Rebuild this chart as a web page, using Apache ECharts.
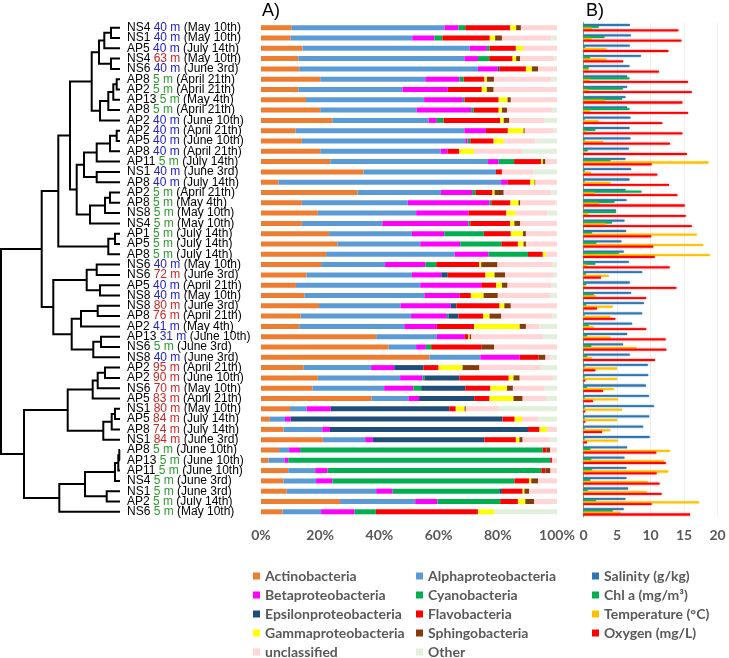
<!DOCTYPE html>
<html><head><meta charset="utf-8">
<script src="https://cdn.jsdelivr.net/npm/echarts@6/dist/echarts.min.js"></script>
<style>html,body{margin:0;padding:0;background:#fff}#c{width:729px;height:658px}</style>
</head><body><div id="c"></div>
<script>
// ---------- sample labels ----------
const sites = ['NS4','NS1','AP5','NS4','NS6','AP8','AP2','AP13','AP8','AP2','AP2','AP5','AP8','AP11','NS1','AP8','AP2','AP8','NS8','NS4','AP1','AP5','AP8','NS6','NS6','AP5','NS8','NS8','AP8','AP2','AP13','NS6','NS8','AP2','AP2','NS6','AP5','NS1','AP5','AP8','NS1','AP8','AP13','AP11','NS4','NS1','AP2','NS6'];
const depths = [40,40,40,63,40,5,5,5,5,40,40,40,40,5,40,40,5,5,5,5,5,5,5,40,72,40,40,80,76,41,31,5,40,95,90,70,83,80,84,74,84,5,5,5,5,5,5,5];
const dates = ['May 10th','May 10th','July 14th','May 10th','June 3rd','April 21th','April 21th','May 4th','April 21th','June 10th','April 21th','June 10th','April 21th','July 14th','June 3rd','July 14th','April 21th','May 4th','May 10th','May 10th','July 14th','July 14th','July 14th','May 10th','June 3rd','April 21th','May 10th','June 3rd','April 21th','May 4th','June 10th','June 3rd','June 3rd','April 21th','June 10th','May 10th','April 21th','May 10th','July 14th','July 14th','June 3rd','June 10th','June 10th','June 10th','June 3rd','June 3rd','July 14th','May 10th'];

// ---------- panel A: relative abundance (%) ----------
const taxa = ['Actinobacteria','Alphaproteobacteria','Betaproteobacteria','Cyanobacteria','Epsilonproteobacteria','Flavobacteria','Gammaproteobacteria','Sphingobacteria','unclassified','Other'];
const actinobacteria = [10.4,10.0,14.0,12.6,12.9,20.0,12.6,15.2,20.0,24.1,11.7,13.8,20.0,23.4,34.6,5.9,32.6,13.8,19.2,13.8,23.0,25.8,22.0,20.3,15.4,11.8,14.7,19.6,13.4,12.9,38.9,43.1,56.9,14.3,19.2,17.4,37.4,9.8,3.0,7.6,20.9,6.1,2.5,9.2,7.6,8.7,26.7,7.3];
const alphaproteobacteria = [51.6,41.1,56.5,56.1,60.4,35.5,35.2,39.9,32.6,32.5,57.0,55.2,40.7,53.3,44.8,75.2,28.2,35.8,33.2,27.2,28.0,28.0,43.4,21.6,35.6,42.0,40.5,27.6,37.3,35.5,20.5,9.3,17.2,22.9,27.8,24.2,12.4,5.6,5.1,13.1,14.3,3.4,5.4,9.1,11.0,30.2,25.4,13.0];
const betaproteobacteria = [4.7,7.5,5.8,4.6,6.6,11.5,15.3,13.1,18.4,2.8,7.3,0.8,2.3,3.6,0,2.2,10.5,27.6,17.7,29.1,10.9,13.5,11.5,13.6,9.9,20.6,11.9,16.9,12.1,11.0,9.4,3.3,13.3,7.8,7.6,9.9,3.6,8.2,1.9,2.6,2.6,3.7,1.3,4.2,5.5,5.6,7.5,11.3];
const cyanobacteria = [2.3,2.7,0.9,3.8,0,1.5,0,0.6,0.9,2.3,0,0.9,0,5.2,0,0,1.1,0.6,0,0.6,13.4,13.9,13.3,3.7,0,0,0,0,0.6,0,0,1.8,0,0,0.6,2.6,0,0,0,0,0,82.0,88.5,72.2,61.5,36.0,21.2,7.2];
const epsilonproteobacteria = [0,0,0,0,0.6,0,0,0,0,0,0,0,0,0,0,0,0,0,0,0,0,0,0,0,2.2,0,0,1.9,3.3,0,0,0,0,9.9,11.8,14.9,18.6,40.0,71.6,66.9,37.7,0,0,0,0,0.9,0,0];
const flavobacteria = [15.2,16.0,8.9,7.9,9.0,7.0,11.5,11.5,8.4,19.1,7.4,7.9,4.0,9.1,2.0,7.7,5.8,6.5,12.8,13.5,9.1,5.6,5.0,14.5,12.7,5.1,3.8,14.6,8.3,12.6,1.3,17.1,6.4,5.1,16.7,8.5,5.2,2.2,4.1,3.9,10.6,1.3,0.6,1.4,5.0,7.0,6.0,34.5];
const gammaproteobacteria = [2.0,1.8,2.4,1.2,2.0,0.8,1.7,3.0,1.1,1.2,5.3,3.4,5.0,0.6,0,1.4,0.7,2.7,3.0,1.4,4.1,1.9,1.2,0.7,3.1,1.9,4.3,1.6,2.2,15.4,0.4,0,0,8.1,1.6,5.6,8.1,3.0,2.5,2.5,1.2,0,0,0,0.7,0.6,2.5,5.5];
const sphingobacteria = [1.6,2.3,0,1.4,2.1,2.4,2.3,1.1,1.7,1.9,0.4,0,0,0.9,0,0.3,3.1,0.6,0,2.0,1.0,0.8,0,5.5,3.6,1.9,4.8,2.2,4.0,2.1,0.5,4.2,2.3,5.7,2.1,2.0,3.1,0.4,0,0,1.1,1.2,0,1.7,2.3,1.6,3.0,0];
const unclassified = [12.2,16.7,11.5,11.5,6.4,19.3,21.4,15.6,15.2,11.9,9.8,10.7,16.4,3.9,10.7,7.3,16.1,11.8,10.9,12.4,10.5,10.5,3.6,18.4,16.4,14.8,17.7,15.6,17.3,4.6,24.3,21.2,1.5,20.6,11.2,10.7,7.9,11.1,5.6,3.4,9.3,2.3,1.7,2.3,6.4,9.4,7.7,0];
const other = [0,1.9,0,0.9,0,2.0,0,0,1.7,4.2,1.1,7.3,11.6,0,7.9,0,1.9,0.6,3.2,0,0,0,0,1.7,1.1,1.9,2.3,0,1.5,5.9,4.7,0,2.4,5.6,1.4,4.2,3.7,19.7,6.2,0,2.3,0,0,0,0,0,0,21.2];
const taxaValues = [actinobacteria,alphaproteobacteria,betaproteobacteria,cyanobacteria,epsilonproteobacteria,flavobacteria,gammaproteobacteria,sphingobacteria,unclassified,other];
const taxaColors = ['#ED7D31','#5B9BD5','#FF00FF','#00B050','#1F4E79','#FF0000','#FFFF00','#843C0C','#FFD5D5','#E2EFDA'];

// ---------- panel B: environmental variables ----------
const envNames = ['Salinity (g/kg)','Chl a (mg/m³)','Temperature (°C)','Oxygen (mg/L)'];
const salinity = [6.9,7.05,6.9,8.55,6.85,6.5,6.5,6.25,6.5,7.0,6.85,7.0,6.75,6.25,7.1,6.85,6.25,6.4,4.85,6.1,6.35,5.65,6.0,6.75,8.75,6.9,7.1,9.0,8.75,7.25,6.5,5.9,6.9,9.6,9.65,9.3,9.75,10.5,9.8,8.9,9.85,6.5,6.1,6.4,6.4,6.65,6.25,6.0];
const chlA = [2.25,3.1,0.25,0.95,0.75,6.85,5.85,5.75,6.85,0.15,1.75,0.15,0.6,4.0,0.15,0.15,8.65,4.6,4.85,4.25,1.25,1.9,5.25,1.75,0.35,0.4,1.5,0.4,0.15,0.75,0.5,1.15,0.5,0.15,0.15,0.5,0.15,0.15,0.15,0.15,0.15,1.0,1.15,1.25,1.0,0.6,1.85,4.35];
const temperature = [1.25,1.2,3.4,3.4,0.75,0.95,0.75,3.15,0.95,2.25,0.3,2.9,0.2,18.65,1.1,4.0,1.6,2.35,0.65,3.25,16.9,17.85,18.85,0.5,3.75,0.2,1.85,4.35,4.0,1.5,4.0,7.9,1.25,5.0,5.0,4.5,5.15,5.75,5.0,4.0,5.1,12.9,12.0,12.65,9.6,9.4,17.25,5.5];
const oxygen = [14.15,14.6,12.65,5.9,11.25,15.6,16.15,14.75,15.6,11.75,14.75,12.9,15.4,10.15,11.0,12.75,14.0,15.1,15.25,16.15,10.1,10.4,10.6,12.85,2.6,13.85,9.35,2.0,4.75,9.35,12.25,12.35,10.65,1.75,0.25,2.9,1.4,0.25,0.25,2.75,0.5,10.85,12.25,10.9,11.35,11.65,10.15,15.9];
const envValues = [salinity, chlA, temperature, oxygen];
const envColors = ['#2E75B6','#00B050','#FFC000','#FF0000'];

// ---------- dendrogram: [childA, childB, height]; leaves 0..47, merged node k => 100+k ----------
const dendroMerges = [
 [0,1,9],[100,2,15.7],[3,4,9],[101,102,21],
 [5,6,3.3],[104,7,6.7],[105,8,11.7],[106,9,20],[103,107,28.3],
 [10,11,3.3],[109,12,10],[110,13,23.3],[14,15,23.3],[111,112,36],
 [16,17,10],[114,18,15],[115,19,30],[113,116,43.3],[108,117,50],
 [20,21,5],[119,22,11.7],[118,120,61.7],
 [23,24,23.3],[25,26,20],[122,123,33.3],
 [27,28,22.3],[125,29,39],[30,31,19],[127,32,26.7],[126,128,48.3],[124,129,66.7],[121,130,78.3],
 [33,34,15],[132,35,22.3],[133,36,27.3],[37,38,5],[135,39,8.3],[136,40,16.7],[134,137,52.3],
 [41,42,0.7],[139,43,1.7],[140,44,5],[45,46,13.3],[141,142,35],[143,47,60.7],[138,144,96],
 [131,145,119]
];

// ---------- build ----------
const n = sites.length;
const cats = sites.map((s,i)=>String(i));
const nodeD = {}, nodeY = {};
for (let i=0;i<n;i++){ nodeD[i]=0; nodeY[i]=i; }
const dendroData = dendroMerges.map((m,k)=>{
  const [a,b,h] = m; const id = 100+k;
  nodeD[id]=h; nodeY[id]=(nodeY[a]+nodeY[b])/2;
  return [h, nodeY[a], nodeY[b], nodeD[a], nodeD[b]];
});

function depthClass(d){ return d<=5 ? 'g' : (d<=41 ? 'b' : 'r'); }

const TOP = 22.55, H = 494.4;
const tickFont = {fontFamily:'Lato', fontSize:14, fontWeight:'bold', color:'#595959'};

const series = [];
series.push({
  type:'custom', xAxisIndex:0, yAxisIndex:0, silent:true,
  encode:{x:[0,3,4], y:[1,2]},
  data: dendroData,
  renderItem(params, api){
    const h=api.value(0), ya=api.value(1), yb=api.value(2), da=api.value(3), db=api.value(4);
    const pts=[api.coord([da,ya]),api.coord([h,ya]),api.coord([h,yb]),api.coord([db,yb])];
    return {type:'polyline', shape:{points:pts}, style:{stroke:'#000', lineWidth:2, fill:null, lineJoin:'miter'}};
  }
});
taxa.forEach((t,i)=>{
  series.push({name:t, type:'bar', stack:'A', xAxisIndex:1, yAxisIndex:1, barWidth:5,
    itemStyle:{color:taxaColors[i]}, data:taxaValues[i], silent:true});
});
envNames.forEach((t,i)=>{
  series.push({name:t, type:'bar', xAxisIndex:2, yAxisIndex:2, barWidth:1.8, barGap:'0%',
    itemStyle:{color:envColors[i], shadowBlur:1.5, shadowColor:envColors[i]}, data:envValues[i], silent:true});
});

const legendBase = {orient:'vertical', itemWidth:7, itemHeight:7, itemGap:5, icon:'rect', selectedMode:false,
  height:120, textStyle:{fontFamily:'Lato', fontSize:14, fontWeight:'bold', color:'#595959'}, padding:0};

const option = {
  animation:false,
  backgroundColor:'#fff',
  graphic:[
    {type:'text', left:262, top:2, style:{text:'A)', font:'18px "Liberation Sans"', fill:'#000'}},
    {type:'text', left:586, top:2, style:{text:'B)', font:'18px "Liberation Sans"', fill:'#000'}}
  ],
  grid:[
    {left:1, top:TOP, width:119, height:H},
    {left:261, top:TOP, width:296, height:H},
    {left:583.5, top:TOP, width:134, height:H}
  ],
  xAxis:[
    {type:'value', gridIndex:0, min:0, max:119, inverse:true, show:false},
    {type:'value', gridIndex:1, min:0, max:100, interval:20, axisLine:{show:false}, axisTick:{show:false}, splitLine:{show:false},
      axisLabel:Object.assign({formatter:'{value}%', margin:12}, tickFont)},
    {type:'value', gridIndex:2, min:0, max:20, interval:5, axisLine:{show:false}, axisTick:{show:false},
      splitLine:{show:true, lineStyle:{color:'#EFEFEF', width:1}},
      axisLabel:Object.assign({margin:12}, tickFont)}
  ],
  yAxis:[
    {type:'value', gridIndex:0, min:-0.5, max:n-0.5, inverse:true, show:false},
    {type:'category', gridIndex:1, data:cats, inverse:true, axisLine:{show:false}, axisTick:{show:false},
      axisLabel:{interval:0, align:'left', margin:134, fontFamily:'Liberation Sans', fontSize:12, color:'#000',
        formatter:(v)=>{const i=+v; return '{k|'+sites[i]+'} {'+depthClass(depths[i])+'|'+depths[i]+' m} {k|('+dates[i]+')}';},
        rich:{k:{color:'#000', fontFamily:'Liberation Sans', fontSize:12},
              b:{color:'#2222CC', fontFamily:'Liberation Sans', fontSize:12},
              g:{color:'#2E9B2E', fontFamily:'Liberation Sans', fontSize:12},
              r:{color:'#CC2626', fontFamily:'Liberation Sans', fontSize:12}}}},
    {type:'category', gridIndex:2, data:cats, inverse:true, axisLine:{show:true, lineStyle:{color:'#8C8C8C', width:1}},
      axisTick:{show:false}, axisLabel:{show:false}}
  ],
  legend:[
    Object.assign({left:253, top:569, data:[taxa[0],taxa[2],taxa[4],taxa[6],taxa[8]]}, legendBase),
    Object.assign({left:416, top:569, data:[taxa[1],taxa[3],taxa[5],taxa[7],taxa[9]]}, legendBase),
    Object.assign({left:592, top:569, data:envNames}, legendBase)
  ],
  series
};
const chart = echarts.init(document.getElementById('c'), null, {renderer:'canvas'});
chart.setOption(option);
</script></body></html>
